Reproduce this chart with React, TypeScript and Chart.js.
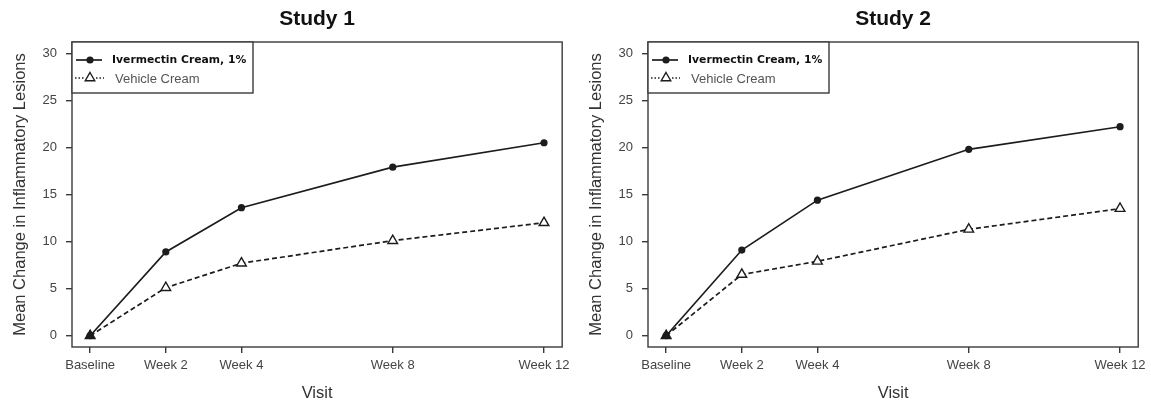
import React, { useEffect, useRef } from "react";
import { Chart, registerables } from "chart.js";
Chart.register(...registerables);

const VISIT_LABELS = ["Baseline", "Week 2", "Week 4", "Week 8", "Week 12"];
const VISIT_WEEKS = [0, 2, 4, 8, 12];
const Y_TICKS = [0, 5, 10, 15, 20, 25, 30];
const SERIES_NAMES = ["Ivermectin Cream, 1%", "Vehicle Cream"];
const STUDY_TITLES = ["Study 1", "Study 2"];
const STUDY1_IVERMECTIN = [0, 8.9, 13.6, 17.9, 20.5];
const STUDY1_VEHICLE = [0, 5.1, 7.7, 10.1, 12.0];
const STUDY2_IVERMECTIN = [0, 9.1, 14.4, 19.8, 22.2];
const STUDY2_VEHICLE = [0, 6.5, 7.9, 11.3, 13.5];
const Y_TITLE = "Mean Change in Inflammatory Lesions";
const X_TITLE = "Visit";

const SANS = "'Liberation Sans', Arial, Helvetica, sans-serif";
const INK = "#1c1c1c";
const AXIS = "#3a3a3a";

const framePlugin = {
  id: "frameAndLegend",
  afterDraw(chart: any, _args: any, opts: any) {
    const { ctx, chartArea } = chart;
    const { left, right, top, bottom } = chartArea;
    ctx.save();
    // title
    ctx.fillStyle = "#111";
    ctx.font = `bold 21px ${SANS}`;
    ctx.textAlign = "center";
    ctx.textBaseline = "middle";
    ctx.fillText(opts.title, (left + right) / 2, 19);
    // box
    ctx.strokeStyle = AXIS;
    ctx.lineWidth = 1.4;
    ctx.strokeRect(left, top, right - left, bottom - top);
    // legend
    const lw = 181, lh = 51;
    ctx.fillStyle = "#fff";
    ctx.fillRect(left, top, lw, lh);
    ctx.strokeRect(left, top, lw, lh);
    const y1 = top + 18, y2 = top + 36;
    ctx.strokeStyle = INK;
    ctx.lineWidth = 1.7;
    ctx.beginPath();
    ctx.moveTo(left + 4, y1);
    ctx.lineTo(left + 30, y1);
    ctx.stroke();
    ctx.fillStyle = INK;
    ctx.beginPath();
    ctx.arc(left + 18, y1, 3.6, 0, Math.PI * 2);
    ctx.fill();
    ctx.lineWidth = 1.4;
    ctx.setLineDash([1.5, 2]);
    ctx.beginPath();
    ctx.moveTo(left + 3, y2);
    ctx.lineTo(left + 12, y2);
    ctx.moveTo(left + 24, y2);
    ctx.lineTo(left + 32, y2);
    ctx.stroke();
    ctx.setLineDash([]);
    const r = 5.5, cx = left + 18, cy = y2;
    ctx.beginPath();
    ctx.moveTo(cx, cy - r);
    ctx.lineTo(cx + r * 0.866, cy + r * 0.5);
    ctx.lineTo(cx - r * 0.866, cy + r * 0.5);
    ctx.closePath();
    ctx.lineWidth = 1.4;
    ctx.stroke();
    ctx.textAlign = "left";
    ctx.textBaseline = "middle";
    ctx.fillStyle = "#111";
    ctx.font = `bold 10.8px 'DejaVu Sans', sans-serif`;
    ctx.fillText(opts.names[0], left + 40, y1);
    ctx.fillStyle = "#555";
    ctx.font = `13px ${SANS}`;
    ctx.fillText(opts.names[1], left + 43, y2 + 1);
    ctx.restore();
  },
};

function Panel({ title, ivermectin, vehicle, padRight }: { title: string; ivermectin: number[]; vehicle: number[]; padRight: number }) {
  const ref = useRef<HTMLCanvasElement | null>(null);
  useEffect(() => {
    if (!ref.current) return;
    const chart = new Chart(ref.current, {
      type: "line",
      data: {
        datasets: [
          {
            label: SERIES_NAMES[0],
            data: VISIT_WEEKS.map((w, i) => ({ x: w, y: ivermectin[i] })),
            borderColor: INK,
            backgroundColor: INK,
            borderWidth: 1.7,
            pointStyle: "circle",
            pointRadius: 3.6,
            pointBorderWidth: 0,
            pointBackgroundColor: INK,
            tension: 0,
          },
          {
            label: SERIES_NAMES[1],
            data: VISIT_WEEKS.map((w, i) => ({ x: w, y: vehicle[i] })),
            borderColor: INK,
            borderWidth: 1.7,
            borderDash: [5, 3],
            pointStyle: "triangle",
            pointRadius: 5.6,
            pointBorderWidth: 1.4,
            pointBorderColor: INK,
            pointBackgroundColor: (c: any) => (c.dataIndex === 0 ? INK : "#fff"),
            tension: 0,
          },
        ],
      },
      options: {
        responsive: false,
        animation: false,
        layout: { padding: { top: 42, right: padRight, left: 0, bottom: 0 } },
        plugins: {
          legend: { display: false },
          tooltip: { enabled: false },
          title: { display: false },
          frameAndLegend: { title, names: SERIES_NAMES },
        } as any,
        scales: {
          x: {
            type: "linear",
            min: -0.48,
            max: 12.48,
            afterBuildTicks: (s: any) => {
              s.ticks = VISIT_WEEKS.map((v) => ({ value: v }));
            },
            afterFit: (s: any) => {
              s.height = 59;
            },
            ticks: {
              autoSkip: false,
              maxRotation: 0,
              padding: 5,
              color: "#444",
              font: { family: SANS, size: 13 },
              callback: (v: any) => VISIT_LABELS[VISIT_WEEKS.indexOf(Number(v))] ?? "",
            },
            grid: { display: true, drawOnChartArea: false, drawTicks: true, tickLength: 6, color: AXIS, lineWidth: 1.4 },
            border: { display: false },
            title: { display: true, text: X_TITLE, color: "#333", font: { family: SANS, size: 16.5 }, padding: { top: 0, bottom: 3 } },
          },
          y: {
            type: "linear",
            min: -1.2,
            max: 31.2,
            afterBuildTicks: (s: any) => {
              s.ticks = Y_TICKS.map((v) => ({ value: v }));
            },
            afterFit: (s: any) => {
              s.width = 72;
            },
            ticks: {
              padding: 9,
              color: "#444",
              font: { family: SANS, size: 13 },
            },
            grid: { display: true, drawOnChartArea: false, drawTicks: true, tickLength: 6, color: AXIS, lineWidth: 1.4 },
            border: { display: false },
            title: { display: true, text: Y_TITLE, color: "#333", font: { family: SANS, size: 16.5 }, padding: { top: 11, bottom: 0 } },
          },
        },
      },
      plugins: [framePlugin],
    } as any);
    return () => chart.destroy();
  }, [title, ivermectin, vehicle, padRight]);
  return <canvas ref={ref} width={575} height={406} style={{ display: "block" }} />;
}

export default function App() {
  return (
    <div style={{ position: "absolute", left: 0, top: 0, width: 1151, height: 406, background: "#fff", overflow: "hidden" }}>
      <div style={{ position: "absolute", left: 0, top: 0 }}>
        <Panel title={STUDY_TITLES[0]} ivermectin={STUDY1_IVERMECTIN} vehicle={STUDY1_VEHICLE} padRight={12} />
      </div>
      <div style={{ position: "absolute", left: 576, top: 0 }}>
        <Panel title={STUDY_TITLES[1]} ivermectin={STUDY2_IVERMECTIN} vehicle={STUDY2_VEHICLE} padRight={11} />
      </div>
    </div>
  );
}
